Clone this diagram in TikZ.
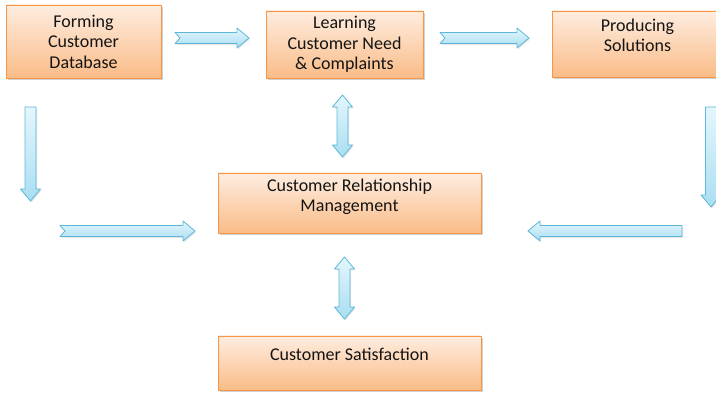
\documentclass[tikz,border=0pt]{standalone}
\usepackage{fontspec}
\setmainfont{Carlito}
\usetikzlibrary{positioning,calc,shadows}

\definecolor{boxline}{HTML}{F79646}
\definecolor{boxtop}{HTML}{FEEDE0}
\definecolor{boxbottom}{HTML}{FABC88}
\definecolor{boxink}{HTML}{141414}
\definecolor{arrline}{HTML}{5DB7D9}
\definecolor{arrtop}{HTML}{E4F6FC}
\definecolor{arrbottom}{HTML}{A9DEF2}

% block arrow sizes
\newcommand{\bodyw}{5.5pt}
\newcommand{\headw}{10pt}
\newcommand{\headl}{12pt}

% one-headed block arrow from #2 to #3, #1 is the notch depth at the tail
\newcommand{\blockarrow}[3][0pt]{%
  \coordinate (ba-n) at ($(#3)!\headl!(#2)$);
  \draw[blockarrow] ($(#2)!\bodyw!90:(#3)$) -- ($(#2)!#1!(#3)$) -- ($(#2)!\bodyw!-90:(#3)$)
    -- ($(ba-n)!\bodyw!-90:(#3)$) -- ($(ba-n)!\headw!-90:(#3)$) -- (#3)
    -- ($(ba-n)!\headw!90:(#3)$) -- ($(ba-n)!\bodyw!90:(#3)$) -- cycle;
}

% two-headed block arrow between #1 and #2
\newcommand{\dblarrow}[2]{%
  \coordinate (da-a) at ($(#1)!\headl!(#2)$);
  \coordinate (da-b) at ($(#2)!\headl!(#1)$);
  \draw[blockarrow] (#1) -- ($(da-a)!\headw!90:(#2)$) -- ($(da-a)!\bodyw!90:(#2)$)
    -- ($(da-b)!\bodyw!90:(#2)$) -- ($(da-b)!\headw!90:(#2)$) -- (#2)
    -- ($(da-b)!\headw!-90:(#2)$) -- ($(da-b)!\bodyw!-90:(#2)$)
    -- ($(da-a)!\bodyw!-90:(#2)$) -- ($(da-a)!\headw!-90:(#2)$) -- cycle;
}

\begin{document}
\begin{tikzpicture}[x=1pt, y=-1pt,
    box/.style={draw=boxline, line width=0.8pt, top color=boxtop, bottom color=boxbottom,
      drop shadow={shadow xshift=1.5pt, shadow yshift=-2pt, opacity=0.3, fill=black!60},
      align=center, text=boxink, font=\fontsize{18}{20.5}\selectfont, inner sep=0pt},
    boxtext/.style={align=center, text=boxink, font=\fontsize{18}{20.5}\selectfont, inner sep=0pt},
    blockarrow/.style={draw=arrline, line width=0.8pt, line join=round,
      top color=arrtop, bottom color=arrbottom,
      drop shadow={shadow xshift=1pt, shadow yshift=-1.5pt, opacity=0.2, fill=black!50}}]

  \useasboundingbox (0,0) rectangle (716,395);
  \clip (0,0) rectangle (716,395);

  % top row
  \node[box, minimum width=155pt, minimum height=73pt] (custdb) at (83.5,41.5)
    {Forming\\Customer\\Database};
  \node[box, minimum width=157pt, minimum height=67pt] (needs) at (344.5,44.5)
    {Learning\\Customer Need\\\& Complaints};
  \node[box, minimum width=171pt, minimum height=66pt] (solutions) at (637.5,44) {};
  \node[boxtext, below=8pt of solutions.north] (soltext) {Producing\\Solutions};

  % middle and bottom
  \node[box, minimum width=263pt, minimum height=60pt] (crm) at (349.5,203) {};
  \node[boxtext, below=6pt of crm.north] (crmtext) {Customer Relationship\\Management};
  \node[box, minimum width=263pt, minimum height=54pt] (satisf) at (349.5,363) {};
  \node[boxtext, below=12pt of satisf.north] (satisftext) {Customer Satisfaction};

  % arrow ends
  \coordinate (db-out) at (175,38);   \coordinate (need-in) at (249,38);
  \coordinate (need-out) at (440,38); \coordinate (sol-in) at (529,38);
  \coordinate (need-down) at (342.5,95); \coordinate (crm-up) at (342.5,157);
  \coordinate (db-down) at (30.5,107); \coordinate (db-end) at (30.5,201);
  \coordinate (left-in) at (60,231);  \coordinate (crm-left) at (195,231);
  \coordinate (right-in) at (682,231); \coordinate (crm-right) at (528,231);
  \coordinate (sol-down) at (711,107); \coordinate (sol-end) at (711,207);
  \coordinate (crm-down) at (344.5,257); \coordinate (sat-up) at (344.5,319);

  % arrows
  \blockarrow[5pt]{db-out}{need-in}
  \blockarrow[5pt]{need-out}{sol-in}
  \dblarrow{need-down}{crm-up}
  \blockarrow{db-down}{db-end}
  \blockarrow[5pt]{left-in}{crm-left}
  \blockarrow{right-in}{crm-right}
  \blockarrow{sol-down}{sol-end}
  \dblarrow{crm-down}{sat-up}

\end{tikzpicture}
\end{document}
